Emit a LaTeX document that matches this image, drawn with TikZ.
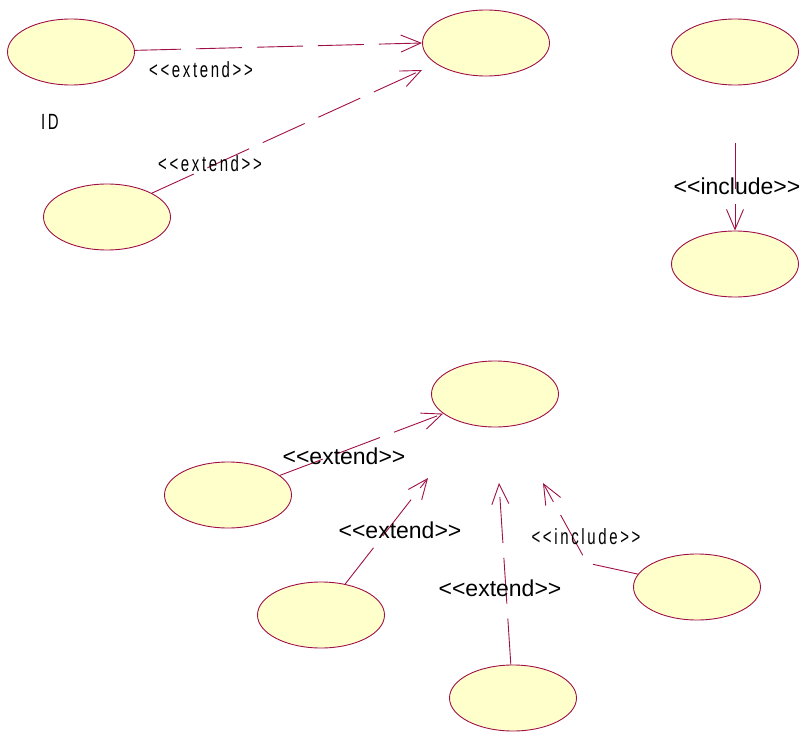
\documentclass[tikz,border=0pt]{standalone}
\usepackage{fontspec}
\setsansfont{Liberation Sans}
\newfontfamily\narrowfont[FakeStretch=0.68,LetterSpace=12]{Liberation Sans}
\usetikzlibrary{shapes.geometric,arrows.meta}
\definecolor{umlred}{RGB}{160,16,72}
\definecolor{umlfill}{RGB}{255,255,204}
\tikzset{
  usecase/.style={ellipse, draw=umlred, fill=umlfill, line width=0.9pt,
    minimum width=127pt, minimum height=66pt, inner sep=0pt},
  depend/.style={draw=umlred, line width=0.9pt, dash pattern=on 46pt off 15pt,
    -{Straight Barb[length=20pt,width=17pt]}},
  biglabel/.style={font=\sffamily\fontsize{23}{23}\selectfont, inner sep=0pt},
  smalllabel/.style={font=\narrowfont\fontsize{22}{22}\selectfont, inner sep=0pt}
}
\newcommand{\stereo}[1]{<{}<#1>{}>}
\begin{document}
\begin{tikzpicture}[x=1pt, y=-1pt, font=\sffamily]
      \useasboundingbox (0,0) rectangle (806,733);
      % use cases
      \foreach \n/\x/\y in {ucA/71/52, ucB/486/43, ucC/735/52, ucD/107/217,
          ucE/735/264, ucF/495/394, ucG/228/495, ucH/321/615, ucI/513/698, ucJ/697/587} {
        \node[usecase] (\n) at (\x,\y) {};
      }
      % free ends
      \coordinate (tipA) at (422,43);
      \coordinate (tipB) at (422,70);
      \coordinate (tipC) at (428,478);
      \coordinate (tipD) at (499,483);
      \coordinate (tipE) at (543,483);
      \coordinate (bendE) at (587,563);

      % relations
      \draw[depend] (ucA) -- (tipA);
      \draw[depend] (ucD.28) -- (tipB);
      \draw[depend, shorten <=58pt] (ucC) -- (ucE);
      \draw[depend] (ucG) -- (ucF);
      \draw[depend] (ucH) -- (tipC);
      \draw[depend] (ucI) -- (tipD);
      \draw[depend] (ucJ) -- (bendE) -- (tipE);

      % labels
      \node[smalllabel] (lblA) at (201,70) {\stereo{extend}};
      \node[smalllabel] (lblB) at (210,164) {\stereo{extend}};
      \node[smalllabel] (lblId) at (50,122) {ID};
      \node[biglabel] (lblC) at (737,186) {\stereo{include}};
      \node[biglabel] (lblG) at (344,456) {\stereo{extend}};
      \node[biglabel] (lblH) at (400,530) {\stereo{extend}};
      \node[biglabel] (lblI) at (500,588) {\stereo{extend}};
      \node[smalllabel] (lblJ) at (586,537) {\stereo{include}};
\end{tikzpicture}
\end{document}
